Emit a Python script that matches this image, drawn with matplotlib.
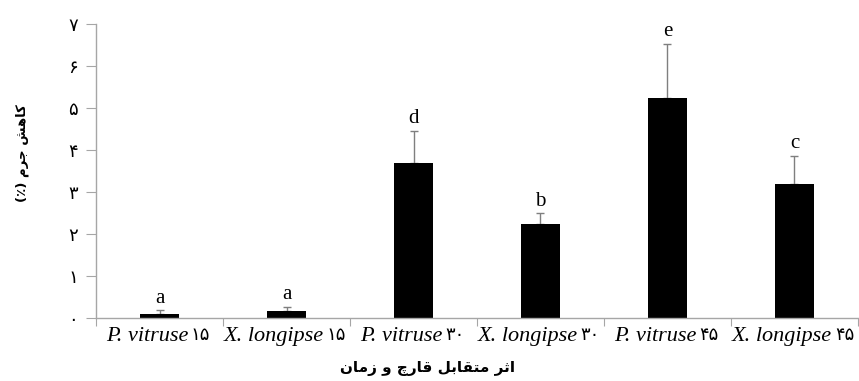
import matplotlib
matplotlib.use('Agg')
import matplotlib.pyplot as plt
import numpy as np

# data
species = ['P. vitruse', 'X. longipse', 'P. vitruse', 'X. longipse', 'P. vitruse', 'X. longipse']
days = ['\u06f1\u06f5', '\u06f1\u06f5', '\u06f3\u06f0', '\u06f3\u06f0', '\u06f4\u06f5', '\u06f4\u06f5']
means = [0.10, 0.17, 3.68, 2.24, 5.23, 3.20]
errs = [0.08, 0.10, 0.78, 0.25, 1.29, 0.66]
letters = ['a', 'a', 'd', 'b', 'e', 'c']
yticks = [0, 1, 2, 3, 4, 5, 6, 7]
ytick_labels = ['\u06f0', '\u06f1', '\u06f2', '\u06f3', '\u06f4', '\u06f5', '\u06f6', '\u06f7']

# Persian labels, pre-shaped (presentation forms, visual order) since matplotlib does no bidi
ylabel = '(\u066a) \uFEE1\uFEAE\uFE9F \uFEB6\uFEEB\uFE8E\uFB90'
xlabel = ('\uFEE5\uFE8E\uFEE3\uFEAF \uFEED \uFB7A\uFEAD\uFE8E\uFED7 '
          '\uFEDE\uFE91\uFE8E\uFED8\uFE98\uFEE3 \uFEAE\uFE9B\uFE8D')

axis_grey = '#a6a6a6'

fig = plt.figure(figsize=(8.59, 3.81), dpi=100)
ax = fig.add_axes([0.1118, 0.1654, 0.887, 0.7716])

x = np.arange(len(means)) + 0.5
ax.bar(x, means, width=0.31, color='black', zorder=2)
ax.errorbar(x, means, yerr=[np.zeros(len(errs)), errs], fmt='none',
            ecolor='#7f7f7f', elinewidth=1, capsize=3, capthick=1, zorder=1)

for xi, m, e, lab in zip(x, means, errs, letters):
    ax.annotate(lab, (xi, m + e), xytext=(0, 2), textcoords='offset points',
                ha='center', va='bottom', fontsize=15, family='Liberation Serif')

ax.set_xlim(0, 6)
ax.set_ylim(0, 7)
ax.set_yticks(yticks)
ax.set_yticklabels(ytick_labels, family=['DejaVu Sans'], fontsize=13)
ax.set_xticks(np.arange(0, 7))
ax.set_xticklabels([])
ax.tick_params(axis='x', length=6, color=axis_grey, direction='out')
ax.tick_params(axis='y', length=7, color=axis_grey, pad=6)

# tick labels: italic species name + upright Persian day number
trans = ax.get_xaxis_transform()
for xi, s, d in zip(x, species, days):
    t = ax.annotate(s, (xi, 0), xycoords=trans, xytext=(-9, -13),
                    textcoords='offset points', ha='center', va='center',
                    fontsize=16, style='italic', family='Liberation Serif',
                    annotation_clip=False)
    ax.annotate(d, (1, 0.08), xycoords=t, xytext=(2, 0), textcoords='offset points',
                ha='left', va='bottom', fontsize=13, family='DejaVu Sans',
                annotation_clip=False)

for side in ['top', 'right']:
    ax.spines[side].set_visible(False)
for side in ['left', 'bottom']:
    ax.spines[side].set_color(axis_grey)
    ax.spines[side].set_linewidth(1)

fig.text(22 / 859, 1 - 153 / 381, ylabel, rotation=90, ha='center', va='center',
         fontsize=9.5, fontweight='bold', family='DejaVu Sans')
fig.text(428 / 859, 1 - 368 / 381, xlabel, ha='center', va='center',
         fontsize=11, fontweight='bold', family='DejaVu Sans')

fig.savefig('out.png', dpi=100)
